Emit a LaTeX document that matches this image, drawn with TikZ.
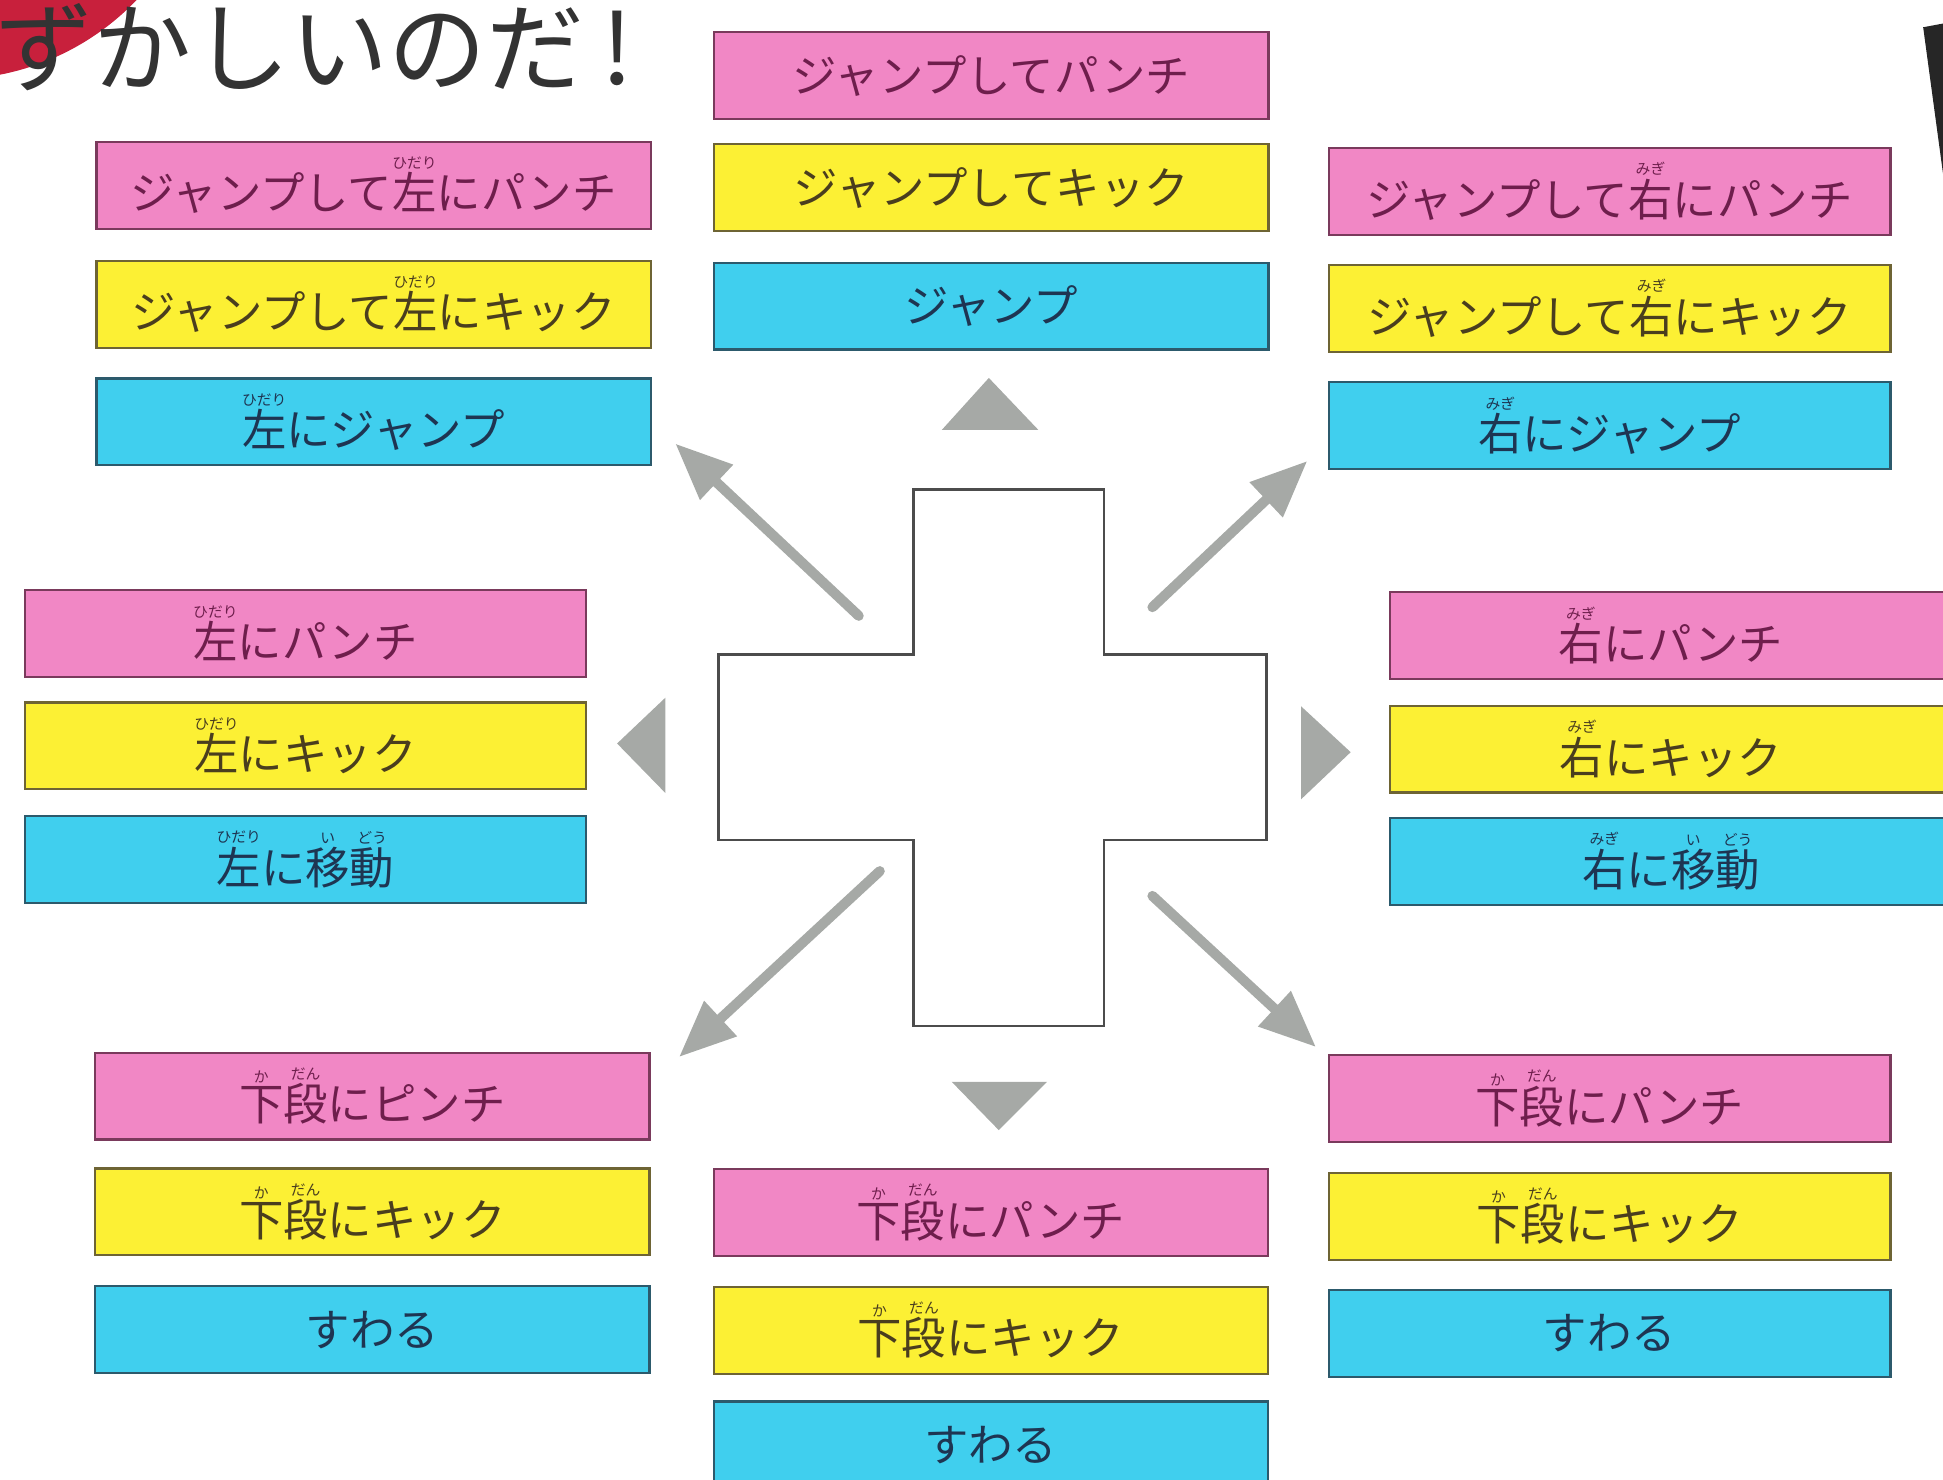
\documentclass[tikz,border=0pt]{standalone}
\usepackage{fontspec}
\setmainfont{Noto Sans CJK JP}
\usetikzlibrary{arrows.meta}

\definecolor{fondorosa}{HTML}{F187C5}
\definecolor{fondoamarillo}{HTML}{FCF034}
\definecolor{fondoceleste}{HTML}{40CFEE}
\definecolor{bordrosa}{HTML}{7A3A5C}
\definecolor{bordamarillo}{HTML}{6E6434}
\definecolor{bordceleste}{HTML}{2C5A6C}
\definecolor{letrarosa}{HTML}{6E1E4C}
\definecolor{letraamarillo}{HTML}{4A3E1E}
\definecolor{letraceleste}{HTML}{1E3552}
\definecolor{gris}{HTML}{A6A9A6}
\definecolor{rojo}{HTML}{C8203C}

% furigana sobre un kanji
\newcommand{\furi}[2]{\leavevmode\setbox0\hbox{#1}%
  \hbox to \wd0{\hss\vbox{\offinterlineskip\halign{\hfil##\hfil\cr
    \fontsize{3.4pt}{3.4pt}\selectfont#2\cr\noalign{\kern0.8pt}\box0\cr}}\hss}}

\begin{document}
\begin{tikzpicture}[x=0.01cm, y=-0.01cm, font=\fontsize{10.2pt}{12pt}\selectfont,
		>={Triangle[length=13pt, width=10.5pt]},
		caja/.style={draw, line width=0.5pt, minimum width=4.47cm, minimum height=0.70cm, inner sep=0pt},
		rosa/.style={caja, fill=fondorosa, draw=bordrosa, text=letrarosa},
		amarillo/.style={caja, fill=fondoamarillo, draw=bordamarillo, text=letraamarillo},
		celeste/.style={caja, fill=fondoceleste, draw=bordceleste, text=letraceleste},
		ancha/.style={minimum width=4.53cm},
		flecha/.style={->, draw=gris, line width=2.3pt, line cap=round}]
	\useasboundingbox (0,0) rectangle (1568,1194);
	\clip (0,0) rectangle (1568,1194);

	% titulo
	\fill[rojo] (-40,-144) circle (2.08cm);
	\node[anchor=base west, inner sep=0pt, text=black!80, font=\fontsize{22.5pt}{24pt}\selectfont] (tit) at (-4,68) {ずかしいのだ\kern4pt!};
	\fill[black!85] (1552,22) -- (1568,19) -- (1568,140) -- cycle;

	% arriba
	\node[rosa] (si1) at (301.5,149.5) {ジャンプして\furi{左}{ひだり}にパンチ};
	\node[amarillo] (si2) at (301.5,245.5) {ジャンプして\furi{左}{ひだり}にキック};
	\node[celeste] (si3) at (301.5,340.5) {\furi{左}{ひだり}にジャンプ};
	\node[rosa] (sc1) at (800,61) {ジャンプしてパンチ};
	\node[amarillo] (sc2) at (800,151.5) {ジャンプしてキック};
	\node[celeste] (sc3) at (800,247) {ジャンプ};
	\node[rosa, ancha] (sd1) at (1299,154.5) {ジャンプして\furi{右}{みぎ}にパンチ};
	\node[amarillo, ancha] (sd2) at (1299,249) {ジャンプして\furi{右}{みぎ}にキック};
	\node[celeste, ancha] (sd3) at (1299,343.5) {\furi{右}{みぎ}にジャンプ};

	% medio
	\node[rosa, ancha] (mi1) at (246.5,511) {\furi{左}{ひだり}にパンチ};
	\node[amarillo, ancha] (mi2) at (246.5,602) {\furi{左}{ひだり}にキック};
	\node[celeste, ancha] (mi3) at (246.5,693.5) {\furi{左}{ひだり}に\furi{移}{い}\furi{動}{どう}};
	\node[rosa, ancha] (md1) at (1348.5,513) {\furi{右}{みぎ}にパンチ};
	\node[amarillo, ancha] (md2) at (1348.5,604.5) {\furi{右}{みぎ}にキック};
	\node[celeste, ancha] (md3) at (1348.5,695) {\furi{右}{みぎ}に\furi{移}{い}\furi{動}{どう}};

	% abajo
	\node[rosa] (ii1) at (300.5,884.5) {\furi{下}{か}\furi{段}{だん}にピンチ};
	\node[amarillo] (ii2) at (300.5,978) {\furi{下}{か}\furi{段}{だん}にキック};
	\node[celeste] (ii3) at (300.5,1073) {すわる};
	\node[rosa] (ic1) at (799.5,978.5) {\furi{下}{か}\furi{段}{だん}にパンチ};
	\node[amarillo] (ic2) at (799.5,1073.5) {\furi{下}{か}\furi{段}{だん}にキック};
	\node[celeste] (ic3) at (799.5,1166) {すわる};
	\node[rosa, ancha] (id1) at (1299,886.5) {\furi{下}{か}\furi{段}{だん}にパンチ};
	\node[amarillo, ancha] (id2) at (1299,981.5) {\furi{下}{か}\furi{段}{だん}にキック};
	\node[celeste, ancha] (id3) at (1299,1076) {すわる};

	% cruz
	\draw[black!70, line width=0.6pt] (737,395) -- (891,395) -- (891,528) -- (1022,528) -- (1022,678)
		-- (891,678) -- (891,828) -- (737,828) -- (737,678) -- (580,678) -- (580,528) -- (737,528) -- cycle;

	% triangulos
	\fill[gris] (798,305) -- (838,347) -- (760,347) -- cycle;
	\fill[gris] (768,873) -- (845,873) -- (806,912) -- cycle;
	\fill[gris] (498,600) -- (537,563) -- (537,640) -- cycle;
	\fill[gris] (1090,607) -- (1050,570) -- (1050,645) -- cycle;

	% flechas diagonales
	\coordinate (no0) at (693,497);
	\coordinate (no1) at (545,358);
	\coordinate (ne0) at (930,490);
	\coordinate (ne1) at (1055,372);
	\coordinate (so0) at (710,703);
	\coordinate (so1) at (548,853);
	\coordinate (se0) at (930,723);
	\coordinate (se1) at (1062,845);
	\draw[flecha] (no0) -- (no1);
	\draw[flecha] (ne0) -- (ne1);
	\draw[flecha] (so0) -- (so1);
	\draw[flecha] (se0) -- (se1);
\end{tikzpicture}
\end{document}
